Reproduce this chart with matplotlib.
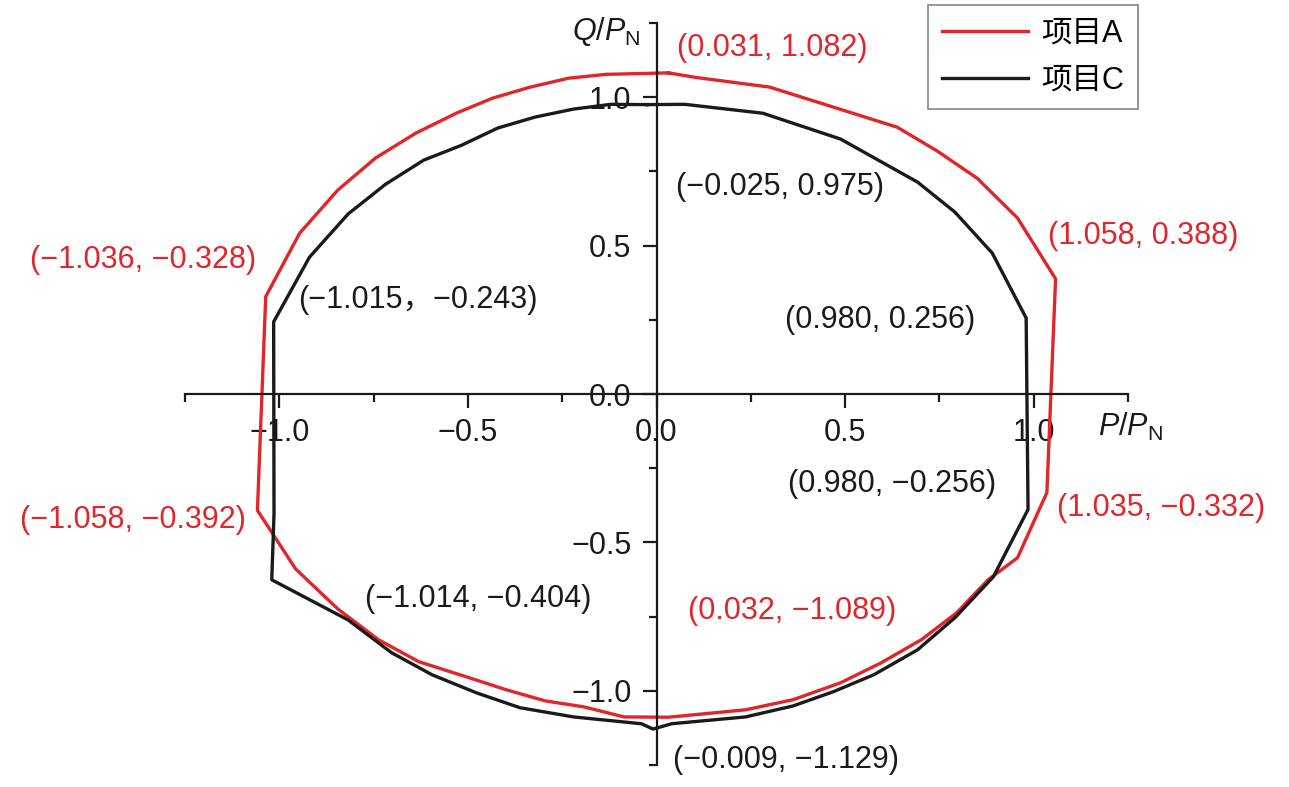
import matplotlib
matplotlib.use("Agg")
import matplotlib.pyplot as plt
from matplotlib.ticker import MultipleLocator, FuncFormatter

# P/PN, Q/PN boundary points (closed loops)
pA = [0.032, -0.134, -0.233, -0.335, -0.434, -0.531, -0.638, -0.745, -0.845, -0.946,
      -1.036, -1.058, -0.957, -0.845, -0.737, -0.630, -0.504, -0.397, -0.295, -0.193,
      -0.086, 0.032, 0.236, 0.362, 0.488, 0.595, 0.702, 0.796, 0.879, 0.957,
      1.035, 1.058, 0.957, 0.850, 0.745, 0.638, 0.300, 0.102, 0.032]
qA = [1.082, 1.077, 1.064, 1.034, 0.997, 0.946, 0.879, 0.795, 0.687, 0.542,
      0.328, -0.392, -0.589, -0.724, -0.828, -0.902, -0.953, -0.997, -1.034, -1.054,
      -1.088, -1.089, -1.064, -1.030, -0.973, -0.906, -0.828, -0.737, -0.626, -0.552,
      -0.332, 0.388, 0.593, 0.727, 0.818, 0.899, 1.034, 1.067, 1.082]

pC = [-0.025, -0.121, -0.220, -0.322, -0.421, -0.517, -0.617, -0.718, -0.818, -0.920,
      -1.015, -1.014, -1.020, -0.818, -0.702, -0.595, -0.477, -0.362, -0.220, -0.040,
      -0.009, 0.040, 0.236, 0.362, 0.469, 0.576, 0.692, 0.791, 0.893, 0.985,
      0.980, 0.890, 0.791, 0.692, 0.488, 0.282, 0.075, -0.025]
qC = [0.975, 0.976, 0.960, 0.933, 0.896, 0.838, 0.788, 0.707, 0.606, 0.461,
      0.243, -0.404, -0.626, -0.761, -0.872, -0.946, -1.007, -1.057, -1.088, -1.111,
      -1.129, -1.111, -1.088, -1.051, -1.003, -0.946, -0.862, -0.754, -0.616, -0.389,
      0.256, 0.475, 0.613, 0.714, 0.859, 0.946, 0.976, 0.975]

series_names = ["项目A", "项目C"]

# annotation text, where it goes, colour key
notes = [
    ("(0.031, 1.082)", 0.054, 1.166, "A"),
    ("(\u22120.025, 0.975)", 0.052, 0.697, "C"),
    ("(1.058, 0.388)", 1.038, 0.532, "A"),
    ("(\u22121.036, \u22120.328)", -1.661, 0.451, "A"),
    ("(\u22121.015\uff0c\u22120.243)", -0.951, 0.317, "C"),
    ("(0.980, 0.256)", 0.340, 0.249, "C"),
    ("(0.980, \u22120.256)", 0.349, -0.303, "C"),
    ("(1.035, \u22120.332)", 1.062, -0.384, "A"),
    ("(\u22121.058, \u22120.392)", -1.688, -0.425, "A"),
    ("(\u22121.014, \u22120.404)", -0.773, -0.691, "C"),
    ("(0.032, \u22121.089)", 0.083, -0.731, "A"),
    ("(\u22120.009, \u22121.129)", 0.044, -1.233, "C"),
]

red = "#e0252b"
blk = "#1a1a1a"
fam = ["Liberation Sans", "Noto Sans CJK SC", "DejaVu Sans"]

plt.rcParams["font.family"] = fam
plt.rcParams["mathtext.fontset"] = "custom"
plt.rcParams["mathtext.rm"] = "Liberation Sans"
plt.rcParams["mathtext.it"] = "Liberation Sans:italic"

fig = plt.figure(figsize=(12.89, 7.87), dpi=100)
ax = fig.add_axes([185 / 1289, 22 / 787, 943 / 1289, 742 / 787])

lA, = ax.plot(pA, qA, color=red, lw=2.4, label=series_names[0])
lC, = ax.plot(pC, qC, color=blk, lw=2.4, label=series_names[1])

ax.set_xlim(-1.25, 1.25)
ax.set_ylim(-1.25, 1.25)

# axes through the origin
for s in ["top", "right"]:
    ax.spines[s].set_visible(False)
for s in ["left", "bottom"]:
    ax.spines[s].set_position(("data", 0))
    ax.spines[s].set_linewidth(1.6)
    ax.spines[s].set_color(blk)

fmt = FuncFormatter(lambda v, _: f"{v:.1f}".replace("-", "\u2212"))
for a in (ax.xaxis, ax.yaxis):
    a.set_major_locator(MultipleLocator(0.5))
    a.set_minor_locator(MultipleLocator(0.25))
    a.set_major_formatter(fmt)
ax.tick_params(which="major", direction="out", length=10, width=1.6, color=blk,
               labelsize=22, labelcolor=blk)
ax.tick_params(which="minor", direction="out", length=5.5, width=1.6, color=blk)
ax.tick_params(axis="x", which="major", pad=7)
ax.tick_params(axis="y", which="major", pad=8)

ax.text(-0.044, 1.22, r"$Q/P_{\mathrm{N}}$", fontsize=22, ha="right", va="center",
        color=blk)
ax.text(1.17, -0.11, r"$P/P_{\mathrm{N}}$", fontsize=22, ha="left", va="center",
        color=blk)

for txt, x, y, k in notes:
    ax.text(x, y, txt, fontsize=22, ha="left", va="center",
            color=red if k == "A" else blk, family=fam, clip_on=False)

leg = fig.legend(handles=[lA, lC], loc="upper right",
                 bbox_to_anchor=(1138 / 1289, 1 - 5 / 787),
                 bbox_transform=fig.transFigure, borderaxespad=0,
                 fontsize=22, fancybox=False, handlelength=2.8,
                 handletextpad=0.45, borderpad=0.45, labelspacing=0.55)
leg.get_frame().set_edgecolor("#666666")
leg.get_frame().set_linewidth(1.2)

fig.savefig("out.png", dpi=100)
